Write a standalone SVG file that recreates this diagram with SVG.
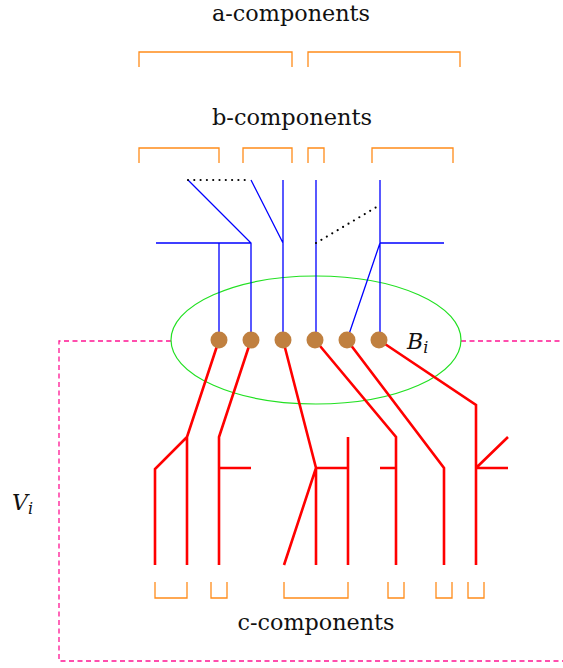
<svg xmlns="http://www.w3.org/2000/svg" width="563" height="668" viewBox="0 0 563 668">
<style>
.lbl{font-family:"DejaVu Serif",serif;font-size:22px;fill:#111}
.math{font-family:"DejaVu Serif",serif;font-style:italic;fill:#111}
.br{fill:none;stroke:#ff8c1a;stroke-width:1.3}
.bl{fill:none;stroke:#0000ff;stroke-width:1.3}
.rd{fill:none;stroke:#ff0000;stroke-width:2.6;stroke-linejoin:miter}
.dt{fill:none;stroke:#000;stroke-width:2.2;stroke-dasharray:0 6.3;stroke-linecap:round}
.dot{fill:#c08040}
</style>
<rect width="563" height="668" fill="#fff"/>
<g id="frame">
<path d="M171,341 H59 V661 H563 M461,341 H563" fill="none" stroke="#ff1493" stroke-width="1.3" stroke-dasharray="5,3.5"/>
<ellipse cx="316" cy="340" rx="145" ry="64" fill="none" stroke="#22e022" stroke-width="1.2"/>
</g>
<g id="labels">
<text class="lbl" x="291" y="21" text-anchor="middle" textLength="158" lengthAdjust="spacingAndGlyphs">a-components</text>
<text class="lbl" x="292" y="125" text-anchor="middle" textLength="160" lengthAdjust="spacingAndGlyphs">b-components</text>
<text class="lbl" x="316" y="630" text-anchor="middle" textLength="157" lengthAdjust="spacingAndGlyphs">c-components</text>
<text class="math" x="407" y="349" font-size="22">B<tspan font-size="16" dy="4">i</tspan></text>
<text class="math" x="12" y="510" font-size="22">V<tspan font-size="16" dy="4">i</tspan></text>
</g>
<g id="brackets">
<path class="br" d="M139,67 V52 H292 V67 M308,67 V52 H460 V67"/>
<path class="br" d="M139,163 V148 H219 V163 M243,163 V148 H292 V163 M308,163 V148 H324 V163 M372,163 V148 H453 V163"/>
<path class="br" d="M155,582 V598 H187 V582 M211,582 V598 H227 V582 M284,582 V598 H348 V582 M388,582 V598 H404 V582 M436,582 V598 H452 V582 M468,582 V598 H484 V582"/>
</g>
<g id="connectors">
<path class="bl" d="M188,180 L251,243 V340 M251,180 L283,243 M283,180 V340 M316,180 V340 M380,180 V340 M380,243 L347,340 M156,243 H251 M219,243 V340 M380,243 H444"/>
<path class="dt" d="M188,180 H251 M316,243 L380,205"/>
<path class="rd" d="M219,340 L187,437 L155,469 V565 M187,437 V565"/>
<path class="rd" d="M251,340 L219,437 V565 M219,468 H251"/>
<path class="rd" d="M283,340 L316,468 L284,565 M316,468 V565 M316,468 H348 M348,437 V565"/>
<path class="rd" d="M315,340 L396,437 V565 M380,468 H396"/>
<path class="rd" d="M347,340 L444,468 V565"/>
<path class="rd" d="M379,340 L476,405 V565 M476,468 L508,437 M476,468 H508"/>
</g>
<g id="n1"><circle class="dot" cx="219" cy="340" r="8.5"/></g>
<g id="n2"><circle class="dot" cx="251" cy="340" r="8.5"/></g>
<g id="n3"><circle class="dot" cx="283" cy="340" r="8.5"/></g>
<g id="n4"><circle class="dot" cx="315" cy="340" r="8.5"/></g>
<g id="n5"><circle class="dot" cx="347" cy="340" r="8.5"/></g>
<g id="n6"><circle class="dot" cx="379" cy="340" r="8.5"/></g>
</svg>
